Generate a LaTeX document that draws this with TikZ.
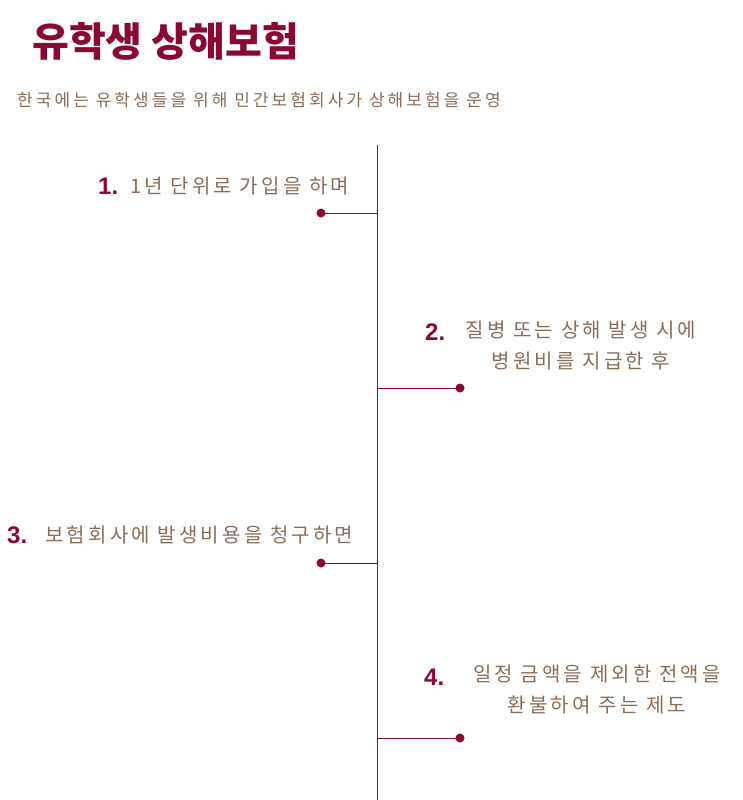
\documentclass[tikz,border=0pt]{standalone}
\usepackage{fontspec}
\newfontfamily\kr{Noto Sans CJK KR}
\newfontfamily\numfont{Liberation Sans}
\definecolor{maroon}{HTML}{880A32}
\definecolor{txtbrown}{HTML}{8A6D58}
\tikzset{
  tline/.style={draw=maroon, line width=1pt},
  dotpt/.style={circle, fill=maroon, inner sep=0pt, minimum size=9pt},
  numlbl/.style={text=maroon, inner sep=0pt, anchor=west, font=\numfont\bfseries\fontsize{24}{28}\selectfont},
  steptxt/.style={text=txtbrown, inner sep=0pt, align=center, font=\kr\fontsize{20}{31}\selectfont\addfontfeature{LetterSpace=16}},
  titletxt/.style={text=maroon, inner sep=0pt, anchor=west, font=\kr\bfseries\fontsize{40}{42}\selectfont},
  subtxt/.style={text=txtbrown, inner sep=0pt, anchor=west, font=\kr\fontsize{17}{20}\selectfont\addfontfeature{LetterSpace=18}}
}
\begin{document}
\begin{tikzpicture}[x=1pt,y=-1pt]
\useasboundingbox (0,0) rectangle (742,800);
\node[titletxt] (title) at (32,41) {유학생 상해보험};
\node[subtxt] (sub) at (17,100) {한국에는 유학생들을 위해 민간보험회사가 상해보험을 운영};
% timeline
\coordinate (top) at (377,145);
\coordinate (bot) at (377,800);
\draw[tline] (top) -- (bot);
% step 1
\coordinate (j1) at (377,213);
\node[dotpt] (d1) at (321,213) {};
\draw[tline] (d1.center) -- (j1);
\node[numlbl] (n1) at (98,186) {1.};
\node[steptxt, anchor=west] (t1) at (130,186) {1년 단위로 가입을 하며};
% step 2
\coordinate (j2) at (377,388);
\node[dotpt] (d2) at (460,388) {};
\draw[tline] (j2) -- (d2.center);
\node[numlbl] (n2) at (425,332) {2.};
\node[steptxt] (t2) at (581,346) {질병 또는 상해 발생 시에\\병원비를 지급한 후};
% step 3
\coordinate (j3) at (377,563);
\node[dotpt] (d3) at (321,563) {};
\draw[tline] (d3.center) -- (j3);
\node[numlbl] (n3) at (7,535) {3.};
\node[steptxt, anchor=west] (t3) at (45,535) {보험회사에 발생비용을 청구하면};
% step 4
\coordinate (j4) at (377,738);
\node[dotpt] (d4) at (460,738) {};
\draw[tline] (j4) -- (d4.center);
\node[numlbl] (n4) at (424,677) {4.};
\node[steptxt] (t4) at (597,690) {일정 금액을 제외한 전액을\\환불하여 주는 제도};
\end{tikzpicture}
\end{document}
